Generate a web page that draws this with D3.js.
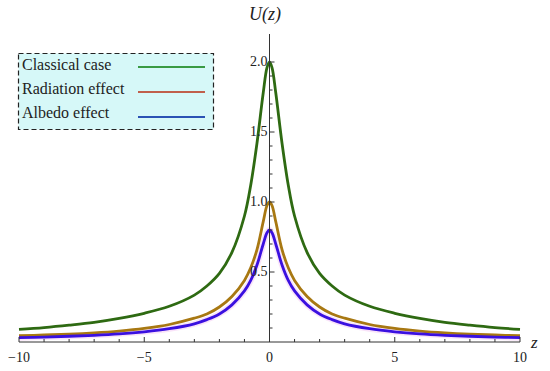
<!DOCTYPE html>
<html>
<head>
<meta charset="utf-8">
<script src="https://cdn.jsdelivr.net/npm/d3@7"></script>
<style>
  body { margin: 0; background: #fff; }
  svg { display: block; }
</style>
</head>
<body>
<div id="chart"></div>
<script>
// values
const zValues = [-10, -9, -8, -7, -6, -5, -4, -3, -2.5, -2, -1.5, -1, -0.75, -0.5, -0.25, -0.1, 0,
                 0.1, 0.25, 0.5, 0.75, 1, 1.5, 2, 2.5, 3, 4, 5, 6, 7, 8, 9, 10];
const classical = [0.09, 0.103, 0.12, 0.14, 0.168, 0.205, 0.255, 0.335, 0.40, 0.49, 0.64, 0.90, 1.12, 1.42, 1.78, 1.96, 2.0,
                   1.96, 1.78, 1.42, 1.12, 0.90, 0.64, 0.49, 0.40, 0.335, 0.255, 0.205, 0.168, 0.14, 0.12, 0.103, 0.09];
const radiation = [0.045, 0.05, 0.056, 0.065, 0.078, 0.097, 0.125, 0.17, 0.20, 0.25, 0.325, 0.44, 0.53, 0.66, 0.86, 0.975, 1.0,
                   0.975, 0.86, 0.66, 0.53, 0.44, 0.325, 0.25, 0.20, 0.17, 0.125, 0.097, 0.078, 0.065, 0.056, 0.05, 0.045];
const albedo = [0.031, 0.035, 0.041, 0.048, 0.058, 0.073, 0.095, 0.13, 0.16, 0.20, 0.265, 0.365, 0.44, 0.55, 0.70, 0.78, 0.8,
                0.78, 0.70, 0.55, 0.44, 0.365, 0.265, 0.20, 0.16, 0.13, 0.095, 0.073, 0.058, 0.048, 0.041, 0.035, 0.031];
const xTicks = [-10, -5, 0, 5, 10];
const yTicks = [0.5, 1.0, 1.5, 2.0];
const legendLabels = ["Classical case", "Radiation effect", "Albedo effect"];

const width = 550, height = 371;

const svg = d3.select("#chart")
  .append("svg")
  .attr("width", width)
  .attr("height", height);

const x = d3.scaleLinear().domain([-10, 10]).range([19, 520]);
const y = d3.scaleLinear().domain([0, 2]).range([342, 62]);

// curves
const line = d3.line()
  .x((d, i) => x(zValues[i]))
  .y(d => y(d))
  .curve(d3.curveCatmullRom.alpha(0.5));

// faint halo seen around the lower curves
svg.append("path").datum(albedo)
  .attr("d", line).attr("fill", "none")
  .attr("stroke", "#f3c8f3").attr("stroke-width", 6).attr("opacity", 0.5);

const series = [
  {vals: classical, color: "#2e6a12"},
  {vals: radiation, color: "#a87812"},
  {vals: albedo, color: "#3a10e0"}
];
series.forEach(s => {
  svg.append("path").datum(s.vals)
    .attr("d", line)
    .attr("fill", "none")
    .attr("stroke", s.color)
    .attr("stroke-width", 2.8);
});

// x axis
const xAxis = svg.append("g");
xAxis.append("line")
  .attr("x1", x(-10)).attr("x2", x(10))
  .attr("y1", y(0)).attr("y2", y(0))
  .attr("stroke", "#333").attr("stroke-width", 1);
d3.range(-10, 10.01, 1).forEach(v => {
  const major = xTicks.includes(v);
  xAxis.append("line")
    .attr("x1", x(v)).attr("x2", x(v))
    .attr("y1", y(0)).attr("y2", y(0) - (major ? 5 : 3))
    .attr("stroke", "#333").attr("stroke-width", 1);
});
xAxis.selectAll("text.tk").data(xTicks).enter().append("text")
  .attr("x", d => x(d))
  .attr("y", 362)
  .attr("text-anchor", "middle")
  .style("font-family", "Liberation Serif, serif")
  .style("font-size", "14px")
  .attr("fill", "#222")
  .text(d => d < 0 ? "\u2212" + Math.abs(d) : d);
svg.append("text")
  .attr("x", 531).attr("y", 348)
  .style("font-family", "Liberation Serif, serif")
  .style("font-style", "italic")
  .style("font-size", "17px")
  .attr("fill", "#222")
  .text("z");

// y axis
const yAxis = svg.append("g");
yAxis.append("line")
  .attr("x1", x(0)).attr("x2", x(0))
  .attr("y1", 34).attr("y2", y(0))
  .attr("stroke", "#333").attr("stroke-width", 1);
d3.range(1, 21).forEach(k => {
  const v = k / 10;
  const major = k % 5 === 0;
  yAxis.append("line")
    .attr("x1", x(0)).attr("x2", x(0) + (major ? 5 : 3))
    .attr("y1", y(v)).attr("y2", y(v))
    .attr("stroke", "#333").attr("stroke-width", 1);
});
yAxis.selectAll("text.tk").data(yTicks).enter().append("text")
  .attr("x", x(0) - 2)
  .attr("y", d => y(d) + 4)
  .attr("text-anchor", "end")
  .style("font-family", "Liberation Serif, serif")
  .style("font-size", "14px")
  .attr("fill", "#222")
  .text(d => d3.format(".1f")(d));
svg.append("text")
  .attr("x", 249).attr("y", 20)
  .style("font-family", "Liberation Serif, serif")
  .style("font-style", "italic")
  .style("font-size", "18px")
  .attr("fill", "#222")
  .text("U(z)");

// legend
const legend = svg.append("g");
legend.append("rect")
  .attr("x", 18.5).attr("y", 53.5)
  .attr("width", 195).attr("height", 76)
  .attr("fill", "#d6f8f8")
  .attr("stroke", "#222")
  .attr("stroke-width", 1.2)
  .attr("stroke-dasharray", "5,3");
const legendColors = ["#3a9a44", "#c0604c", "#2a52b4"];
legendLabels.forEach((lab, i) => {
  legend.append("text")
    .attr("x", 22).attr("y", 70 + i * 24)
    .style("font-family", "Liberation Serif, serif")
    .style("font-size", "16px")
    .attr("fill", "#222")
    .text(lab);
  legend.append("line")
    .attr("x1", 138).attr("x2", 205)
    .attr("y1", 67 + i * 25).attr("y2", 67 + i * 25)
    .attr("stroke", legendColors[i])
    .attr("stroke-width", 2);
});
</script>
</body>
</html>
